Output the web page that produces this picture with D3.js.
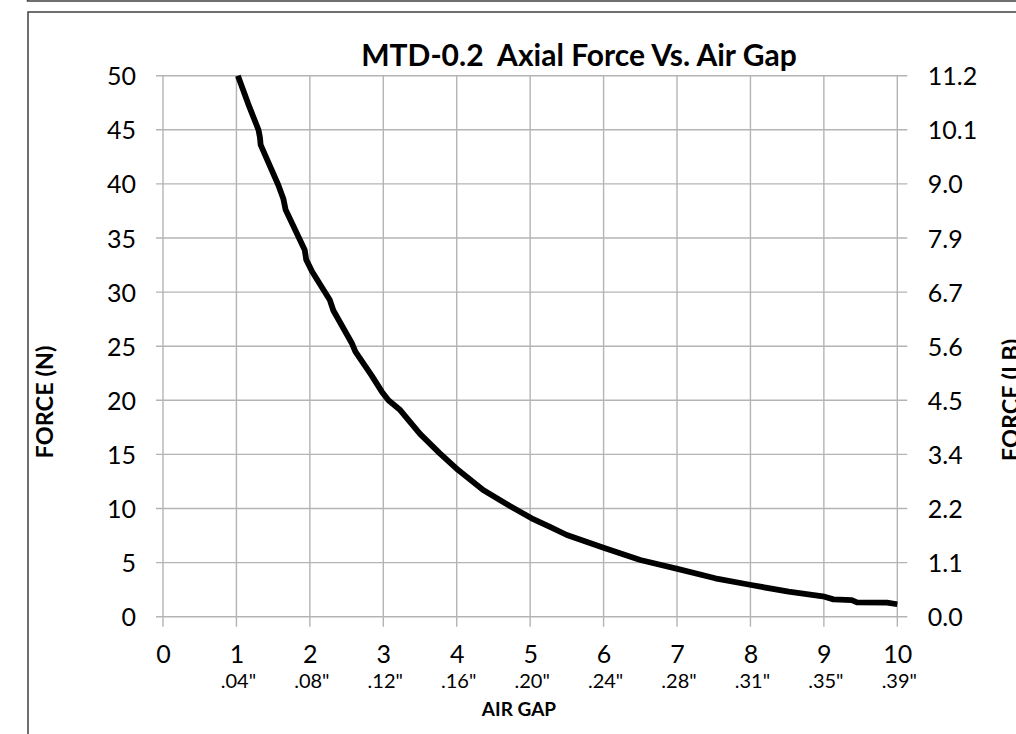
<!DOCTYPE html>
<html>
<head>
<meta charset="utf-8">
<script src="https://cdn.jsdelivr.net/npm/d3@7"></script>
<style>
  html, body { margin: 0; padding: 0; background: #fff; }
  svg { display: block; font-family: Lato, "Open Sans", sans-serif; }
</style>
</head>
<body>
<div id="vis"></div>
<script>
// air gap (mm) and axial force (N)
var gap   = [1.02, 1.16, 1.30, 1.32, 1.33, 1.57, 1.64, 1.67, 1.93, 1.95, 2.03, 2.27, 2.32, 2.57, 2.62, 2.84, 2.98, 3.07, 3.23, 3.50,
             3.77, 4.02, 4.36, 4.73, 5.02, 5.27, 5.50, 6.02, 6.50, 7.02, 7.52, 8.01, 8.52, 9.01, 9.13, 9.38, 9.45, 9.86, 10.0];
var force = [50, 47.4, 45.0, 44.3, 43.6, 39.9, 38.6, 37.6, 33.9, 33.0, 31.9, 29.3, 28.3, 25.3, 24.5, 22.3, 20.8, 20.0, 19.1, 16.9,
             15.1, 13.55, 11.7, 10.2, 9.09, 8.3, 7.55, 6.32, 5.24, 4.4, 3.55, 2.93, 2.31, 1.85, 1.6, 1.54, 1.33, 1.3, 1.15];

var gapTicks   = [0, 1, 2, 3, 4, 5, 6, 7, 8, 9, 10];
var inchLabels = ["", ".04\"", ".08\"", ".12\"", ".16\"", ".20\"", ".24\"", ".28\"", ".31\"", ".35\"", ".39\""];
var forceTicks = [0, 5, 10, 15, 20, 25, 30, 35, 40, 45, 50];
var lbLabels   = ["0.0", "1.1", "2.2", "3.4", "4.5", "5.6", "6.7", "7.9", "9.0", "10.1", "11.2"];

var W = 1016, H = 734;
var svg = d3.select("#vis").append("svg").attr("width", W).attr("height", H);

// page frame bits
svg.append("rect").attr("x", 27.5).attr("y", -100).attr("width", 2000).attr("height", 101)
    .attr("fill", "none").attr("stroke", "#404040").attr("stroke-width", 1.5);
svg.append("rect").attr("x", 28).attr("y", 12).attr("width", 2000).attr("height", 2000)
    .attr("fill", "none").attr("stroke", "#404040").attr("stroke-width", 1.5);

var x = d3.scaleLinear().domain([0, 10]).range([163, 897.3]);
var y = d3.scaleLinear().domain([0, 50]).range([616.7, 75.7]);

var grid = svg.append("g").attr("stroke", "#b4b4b4").attr("stroke-width", 1.4);
grid.selectAll(".vx").data(gapTicks).enter().append("line")
    .attr("x1", function(d){ return x(d); }).attr("x2", function(d){ return x(d); })
    .attr("y1", y(50)).attr("y2", y(0) + 10);
grid.selectAll(".hy").data(forceTicks).enter().append("line")
    .attr("x1", x(0) - 7).attr("x2", x(10) + 10)
    .attr("y1", function(d){ return y(d); }).attr("y2", function(d){ return y(d); });

// left axis labels
var left = svg.append("g").attr("transform", "translate(" + (x(0) - 27) + ",0)")
    .call(d3.axisLeft(y).tickValues(forceTicks).tickSize(0).tickPadding(0));
left.select(".domain").remove();
left.selectAll("text").attr("font-family", "Lato").attr("font-size", 25).attr("fill", "#000").attr("dy", "0.36em");

// right axis labels
var right = svg.append("g").attr("transform", "translate(" + (x(10) + 30.5) + ",0)")
    .call(d3.axisRight(y).tickValues(forceTicks).tickSize(0).tickPadding(0)
      .tickFormat(function(d, i){ return lbLabels[i]; }));
right.select(".domain").remove();
right.selectAll("text").attr("font-family", "Lato").attr("font-size", 25).attr("fill", "#000").attr("dy", "0.36em");

// bottom axis labels
var bottom = svg.append("g").attr("transform", "translate(0," + (y(0) + 29) + ")")
    .call(d3.axisBottom(x).tickValues(gapTicks).tickSize(0).tickPadding(0));
bottom.select(".domain").remove();
bottom.selectAll("text").attr("font-family", "Lato").attr("font-size", 25).attr("fill", "#000").attr("dy", "0.71em");

svg.append("g").selectAll("text").data(gapTicks).enter().append("text")
    .attr("x", function(d){ return x(d) + 2; }).attr("y", y(0) + 71.5)
    .attr("text-anchor", "middle").attr("font-size", 20).attr("fill", "#000")
    .text(function(d, i){ return inchLabels[i]; });

// the curve
var line = d3.line().x(function(d){ return x(d[0]); }).y(function(d){ return y(d[1]); });
svg.append("path").datum(d3.zip(gap, force))
    .attr("d", line).attr("fill", "none").attr("stroke", "#000")
    .attr("stroke-width", 5.8).attr("stroke-linejoin", "round");

// titles
svg.append("text").attr("x", 579).attr("y", 65.5).attr("text-anchor", "middle")
    .attr("font-size", 30).attr("font-weight", "bold").style("white-space", "pre")
    .text("MTD-0.2  Axial Force Vs. Air Gap");
svg.append("text").attr("x", 519).attr("y", 715.5).attr("text-anchor", "middle")
    .attr("font-size", 19).attr("font-weight", "bold").text("AIR GAP");
svg.append("text").attr("transform", "translate(53,402) rotate(-90)").attr("text-anchor", "middle")
    .attr("font-size", 23.5).attr("font-weight", "bold").text("FORCE (N)");
svg.append("text").attr("transform", "translate(1019,400) rotate(-90)").attr("text-anchor", "middle")
    .attr("font-size", 23.5).attr("font-weight", "bold").text("FORCE (LB)");
</script>
</body>
</html>
